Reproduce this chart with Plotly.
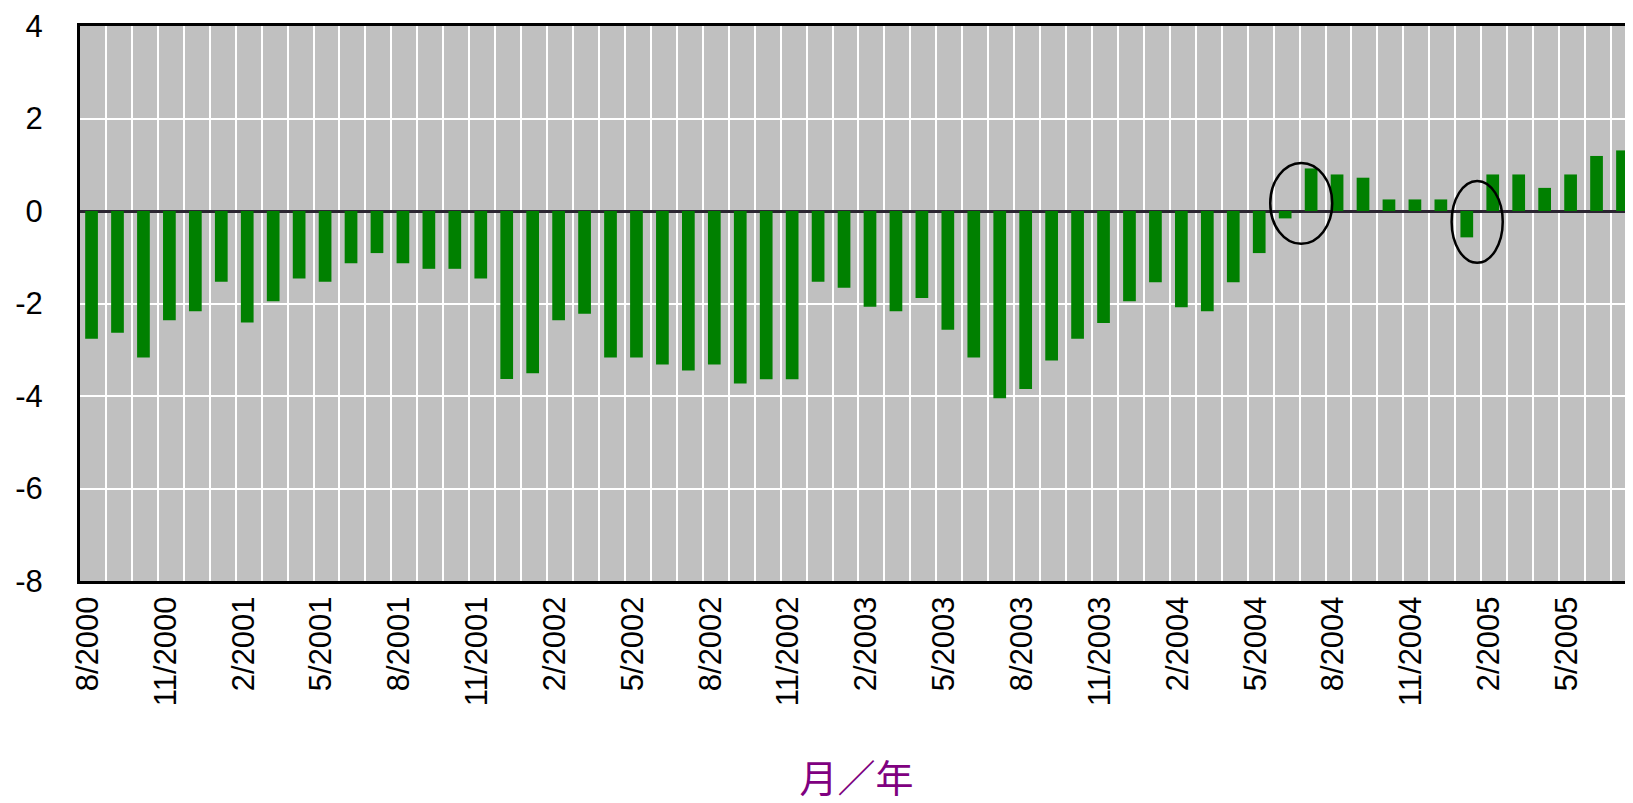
import plotly.graph_objects as go

# Month labels (one per bar)
months = [
    "8/2000", "9/2000", "10/2000", "11/2000", "12/2000",
    "1/2001", "2/2001", "3/2001", "4/2001", "5/2001", "6/2001",
    "7/2001", "8/2001", "9/2001", "10/2001", "11/2001", "12/2001",
    "1/2002", "2/2002", "3/2002", "4/2002", "5/2002", "6/2002",
    "7/2002", "8/2002", "9/2002", "10/2002", "11/2002", "12/2002",
    "1/2003", "2/2003", "3/2003", "4/2003", "5/2003", "6/2003",
    "7/2003", "8/2003", "9/2003", "10/2003", "11/2003", "12/2003",
    "1/2004", "2/2004", "3/2004", "4/2004", "5/2004", "6/2004",
    "7/2004", "8/2004", "9/2004", "10/2004", "11/2004", "12/2004",
    "1/2005", "2/2005", "3/2005", "4/2005", "5/2005", "6/2005",
    "7/2005",
]

# Values
values = [
    -2.76, -2.63, -3.17, -2.36, -2.17,
    -1.53, -2.41, -1.95, -1.46, -1.53, -1.13,
    -0.91, -1.13, -1.25, -1.25, -1.46, -3.63,
    -3.51, -2.36, -2.22, -3.17, -3.17, -3.32,
    -3.45, -3.32, -3.73, -3.64, -3.64, -1.53,
    -1.66, -2.07, -2.17, -1.88, -2.57, -3.17,
    -4.05, -3.85, -3.23, -2.76, -2.42, -1.95,
    -1.54, -2.08, -2.17, -1.54, -0.91, -0.16,
    0.92, 0.79, 0.72, 0.25, 0.25, 0.25,
    -0.57, 0.79, 0.79, 0.50, 0.79, 1.19,
    1.31,
]

# Labelled ticks on the x axis (every third month)
x_tick_labels = months[::3]

# y axis ticks
y_tick_vals = [4, 2, 0, -2, -4, -6, -8]
y_tick_text = ["4", "2", "0", "-2", "-4", "-6", "-8"]

x_title = "月／年"

positions = list(range(len(months)))
boundaries = [p + 0.5 for p in positions[:-1]]
label_positions = [p - 0.2 for p in positions[::3]]

fig = go.Figure()
fig.add_trace(go.Bar(
    x=positions,
    y=values,
    customdata=months,
    width=0.49,
    offset=-0.30,
    marker=dict(color="#008000", line=dict(width=0)),
    hovertemplate="%{customdata}: %{y}<extra></extra>",
))

# circled months (highlight ellipses)
fig.add_shape(type="circle", xref="x", yref="y",
              x0=45.37, x1=47.76, y0=-0.71, y1=1.04,
              line=dict(color="black", width=2.5))
fig.add_shape(type="circle", xref="x", yref="y",
              x0=52.36, x1=54.33, y0=-1.12, y1=0.65,
              line=dict(color="black", width=2.5))

fig.update_layout(
    width=1625, height=795,
    margin=dict(l=72, r=0, t=18, b=222),
    paper_bgcolor="white",
    plot_bgcolor="#C0C0C0",
    showlegend=False,
    font=dict(family="Liberation Sans, Arial, sans-serif", color="black"),
)

fig.update_xaxes(
    range=[-0.5, 59.35],
    tickmode="array",
    tickvals=label_positions,
    ticktext=x_tick_labels,
    tickangle=-90,
    tickfont=dict(size=31, color="black"),
    ticks="",
    ticklabelstandoff=0,
    showgrid=False,
    minor=dict(tickmode="array", tickvals=boundaries, showgrid=True,
               gridcolor="white", gridwidth=2, ticks=""),
    showline=True, linecolor="black", linewidth=3, mirror=True,
    zeroline=False,
    title=dict(text=x_title, font=dict(size=38, color="#800080",
               family="Noto Sans CJK SC, sans-serif"), standoff=67),
)

fig.update_yaxes(
    range=[-8, 4],
    tickmode="array",
    tickvals=y_tick_vals,
    ticktext=y_tick_text,
    tickfont=dict(size=31, color="black"),
    ticks="",
    ticklabelstandoff=28,
    ticklabeloverflow="allow",
    showgrid=True, gridcolor="white", gridwidth=2,
    zeroline=True, zerolinecolor="#2a2430", zerolinewidth=3,
    showline=True, linecolor="black", linewidth=3,
)

fig.write_html("out.html")
